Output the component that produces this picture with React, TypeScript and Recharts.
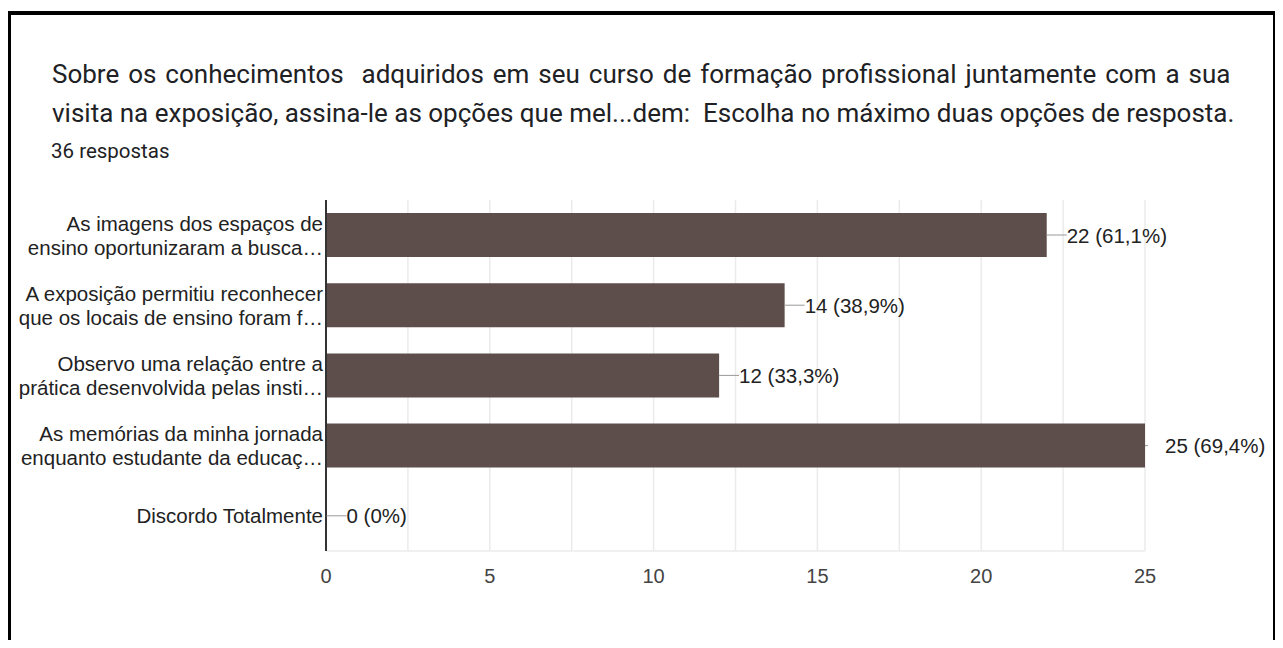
import React from "react";
import {
  BarChart, Bar, XAxis, YAxis, CartesianGrid, LabelList,
} from "recharts";

const titleLines = [
  "Sobre os conhecimentos  adquiridos em seu curso de formação profissional juntamente com a sua",
  "visita na exposição, assina-le as opções que mel...dem:  Escolha no máximo duas opções de resposta.",
];
const responses = "36 respostas";

const categories = [
  "As imagens dos espaços de\nensino oportunizaram a busca…",
  "A exposição permitiu reconhecer\nque os locais de ensino foram f…",
  "Observo uma relação entre a\nprática desenvolvida pelas insti…",
  "As memórias da minha jornada\nenquanto estudante da educaç…",
  "Discordo Totalmente",
];
const counts = [22, 14, 12, 25, 0];
const percents = ["61,1%", "38,9%", "33,3%", "69,4%", "0%"];
const xTicks = [0, 5, 10, 15, 20, 25];
const gridValues = [0, 2.5, 5, 7.5, 10, 12.5, 15, 17.5, 20, 22.5, 25];

const data = categories.map((c, i) => ({
  name: c,
  value: counts[i],
  pct: percents[i],
}));

const AXIS_FONT = "Arial, 'Liberation Sans', sans-serif";
const BAR_COLOR = "#5e4e4b";
const X_MAX = 25;

const CategoryTick = ({ x, y, payload }: any) => {
  const lines = String(payload.value).split("\n");
  const lh = 24;
  const start = -((lines.length - 1) * lh) / 2;
  return (
    <text
      x={x + 5}
      y={y}
      textAnchor="end"
      fontSize={20.5}
      fontFamily={AXIS_FONT}
      fill="#222"
    >
      {lines.map((l, i) => (
        <tspan key={i} x={x + 5} y={y + start + i * lh} dominantBaseline="central">
          {l}
        </tspan>
      ))}
    </text>
  );
};

const ValueLabel = (props: any) => {
  const { x, y, width, height, value, index } = props;
  const end = x + width;
  const cy = y + height / 2;
  const lineLen = value >= X_MAX ? 3 : 20;
  return (
    <g>
      <line x1={end} y1={cy} x2={end + lineLen} y2={cy} stroke="#999" strokeWidth={1} />
      <text
        x={end + 20}
        y={cy}
        dominantBaseline="central"
        fontSize={20.5}
        fontFamily={AXIS_FONT}
        fill="#222"
      >
        {`${value} (${percents[index]})`}
      </text>
    </g>
  );
};

export default function App() {
  return (
    <div
      style={{
        position: "relative",
        width: 1283,
        height: 648,
        margin: -8,
        background: "#fff",
        overflow: "hidden",
      }}
    >
      <div
        style={{
          position: "absolute",
          left: 7,
          top: 11,
          width: 1270,
          height: 700,
          border: "4px solid #000",
          boxSizing: "border-box",
        }}
      />
      <div
        style={{
          position: "absolute",
          left: 52,
          top: 55,
          fontFamily: "Roboto, sans-serif",
          fontSize: 26,
          lineHeight: "39px",
          color: "#202124",
          whiteSpace: "pre",
        }}
      >
        <div style={{ wordSpacing: 2.5 }}>{titleLines[0]}</div>
        <div>{titleLines[1]}</div>
      </div>
      <div
        style={{
          position: "absolute",
          left: 51,
          top: 139,
          fontFamily: "Roboto, sans-serif",
          fontSize: 20.5,
          color: "#202124",
        }}
      >
        {responses}
      </div>
      <div style={{ position: "absolute", left: 0, top: 190 }}>
        <BarChart
          width={1283}
          height={405}
          data={data}
          layout="vertical"
          margin={{ top: 10, right: 138, left: 0, bottom: 0 }}
          barCategoryGap={13}
        >
          <CartesianGrid
            stroke="#ebebeb"
            strokeWidth={1.5}
            horizontal={false}
            verticalValues={gridValues}
          />
          <XAxis
            type="number"
            domain={[0, X_MAX]}
            ticks={xTicks}
            height={44}
            axisLine={{ stroke: "#ebebeb", strokeWidth: 1.5 }}
            tickLine={false}
            tick={{ fontSize: 20, fill: "#444", fontFamily: AXIS_FONT }}
            tickMargin={12}
          />
          <XAxis
            xAxisId="top"
            type="number"
            orientation="top"
            domain={[0, X_MAX]}
            height={0}
            tick={false}
            tickLine={false}
            axisLine={{ stroke: "#ebebeb", strokeWidth: 1.5 }}
          />
          <YAxis
            type="category"
            dataKey="name"
            width={326}
            axisLine={{ stroke: "#333", strokeWidth: 2 }}
            tickLine={false}
            tick={<CategoryTick />}
            interval={0}
          />
          <Bar
            dataKey="value"
            fill={BAR_COLOR}
            minPointSize={0.5}
            isAnimationActive={false}
          >
            <LabelList dataKey="value" content={<ValueLabel />} />
          </Bar>
        </BarChart>
      </div>
    </div>
  );
}
